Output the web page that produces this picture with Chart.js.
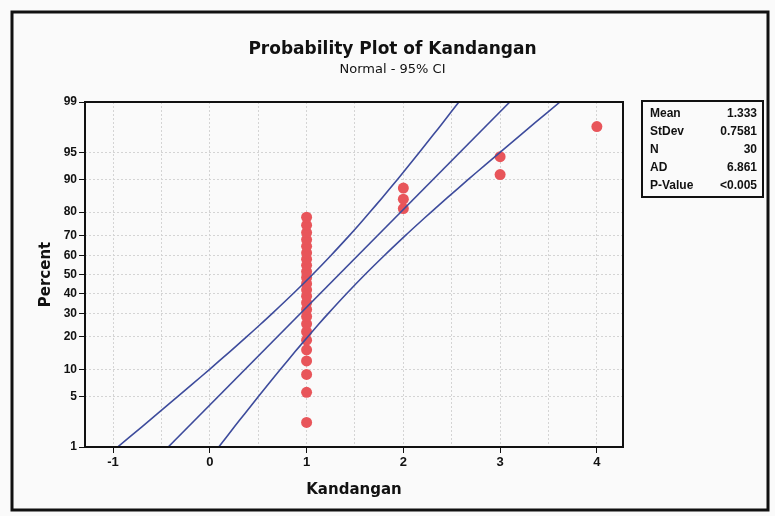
<!DOCTYPE html>
<html>
<head>
<meta charset="utf-8">
<script src="https://cdn.jsdelivr.net/npm/chart.js@4.4.1/dist/chart.umd.min.js"></script>
<style>
  html, body { margin: 0; padding: 0; background: #fafafa; }
  #wrap { position: relative; width: 775px; height: 516px; }
</style>
</head>
<body>
<div id="wrap"><canvas id="probPlot"></canvas></div>
<script>
// observed values (sorted) and their plotted percents (median ranks)
const kandangan = [1, 1, 1, 1, 1, 1, 1, 1, 1, 1, 1, 1, 1, 1, 1, 1, 1, 1, 1, 1, 1, 1, 1, 1, 2, 2, 2, 3, 3, 4];
const plotPercent = [2.3, 5.6, 8.9, 12.2, 15.5, 18.8, 22.0, 25.3, 28.6, 31.9, 35.2, 38.5, 41.8, 45.1, 48.4,
  51.6, 54.9, 58.2, 61.5, 64.8, 68.1, 71.4, 74.7, 78.0, 81.3, 84.5, 87.8, 91.1, 94.4, 97.7];

// fitted line and 95% CI band, read at percent levels
const fitPercent = [1, 99];
const fitLine = [-0.43, 3.10];
const ciPercent = [1, 2, 3, 5, 7, 10, 15, 20, 25, 30, 40, 50, 60, 70, 75, 80, 85, 90, 93, 95, 97, 98, 99];
const ciLower = [-0.953, -0.702, -0.544, -0.330, -0.178, -0.005, 0.211, 0.379, 0.521, 0.646, 0.865, 1.062,
  1.249, 1.441, 1.544, 1.655, 1.782, 1.939, 2.060, 2.164, 2.307, 2.412, 2.574];
const ciUpper = [0.092, 0.254, 0.359, 0.502, 0.606, 0.728, 0.884, 1.011, 1.122, 1.225, 1.417, 1.604,
  1.801, 2.020, 2.145, 2.287, 2.455, 2.671, 2.844, 2.996, 3.210, 3.368, 3.619];

// axis ticks
const yTickPercent = [1, 5, 10, 20, 30, 40, 50, 60, 70, 80, 90, 95, 99];
const xTicks = [-1, -0.5, 0, 0.5, 1, 1.5, 2, 2.5, 3, 3.5, 4];

// stats box
const statLabels = ['Mean', 'StDev', 'N', 'AD', 'P-Value'];
const statValues = ['1.333', '0.7581', '30', '6.861', '<0.005'];

const FONT = 'Liberation Sans';
const HEAD = 'DejaVu Sans';

// inverse normal cdf (Acklam) - the y axis is a normal probability scale
function normInv(p) {
  const a = [-3.969683028665376e+01, 2.209460984245205e+02, -2.759285104469687e+02, 1.383577518672690e+02, -3.066479806614716e+01, 2.506628277459239e+00];
  const b = [-5.447609879822406e+01, 1.615858368580409e+02, -1.556989798598866e+02, 6.680131188771972e+01, -1.328068155288572e+01];
  const c = [-7.784894002430293e-03, -3.223964580411365e-01, -2.400758277161838e+00, -2.549732539343734e+00, 4.374664141464968e+00, 2.938163982698783e+00];
  const d = [7.784695709041462e-03, 3.224671290700398e-01, 2.445134137142996e+00, 3.754408661907416e+00];
  const plow = 0.02425;
  let q, r;
  if (p < plow) {
    q = Math.sqrt(-2 * Math.log(p));
    return (((((c[0] * q + c[1]) * q + c[2]) * q + c[3]) * q + c[4]) * q + c[5]) /
      ((((d[0] * q + d[1]) * q + d[2]) * q + d[3]) * q + 1);
  }
  if (p <= 1 - plow) {
    q = p - 0.5;
    r = q * q;
    return (((((a[0] * r + a[1]) * r + a[2]) * r + a[3]) * r + a[4]) * r + a[5]) * q /
      (((((b[0] * r + b[1]) * r + b[2]) * r + b[3]) * r + b[4]) * r + 1);
  }
  q = Math.sqrt(-2 * Math.log(1 - p));
  return -(((((c[0] * q + c[1]) * q + c[2]) * q + c[3]) * q + c[4]) * q + c[5]) /
    ((((d[0] * q + d[1]) * q + d[2]) * q + d[3]) * q + 1);
}
const zOf = pct => normInv(pct / 100);
const toPoints = (xs, pcts) => xs.map((x, i) => ({ x: x, y: zOf(pcts[i]) }));

const LINE = '#3d4b9c';
const DOT = '#e8555a';

const framePlugin = {
  id: 'frame',
  beforeDraw(chart) {
    const ctx = chart.ctx;
    ctx.save();
    ctx.fillStyle = '#fafafa';
    ctx.fillRect(0, 0, chart.width, chart.height);
    ctx.restore();
  },
  afterDraw(chart) {
    const ctx = chart.ctx;
    const a = chart.chartArea;
    ctx.save();
    // outer graph frame
    ctx.strokeStyle = '#111';
    ctx.lineWidth = 3;
    ctx.strokeRect(12, 12, 756, 498);
    // plot area box
    ctx.lineWidth = 2;
    ctx.strokeRect(a.left, a.top, a.right - a.left, a.bottom - a.top);
    // stats table
    const bx = 642, by = 101, bw = 121, bh = 96;
    ctx.strokeRect(bx, by, bw, bh);
    ctx.fillStyle = '#111';
    ctx.font = 'bold 12px "' + FONT + '"';
    ctx.textBaseline = 'middle';
    statLabels.forEach((lab, i) => {
      const y = by + 13 + i * 18;
      ctx.textAlign = 'left';
      ctx.fillText(lab, bx + 8, y);
      ctx.textAlign = 'right';
      ctx.fillText(statValues[i], bx + bw - 6, y);
    });
    ctx.restore();
  }
};

const lineStyle = {
  showLine: true,
  borderColor: LINE,
  borderWidth: 1.6,
  pointRadius: 0,
  pointHoverRadius: 0,
  tension: 0.3,
  fill: false
};

new Chart(document.getElementById('probPlot'), {
  type: 'scatter',
  data: {
    datasets: [
      Object.assign({ label: 'Lower CI', data: toPoints(ciLower, ciPercent) }, lineStyle),
      Object.assign({ label: 'Fit', data: toPoints(fitLine, fitPercent) }, lineStyle, { tension: 0 }),
      Object.assign({ label: 'Upper CI', data: toPoints(ciUpper, ciPercent) }, lineStyle),
      {
        label: 'Kandangan',
        data: toPoints(kandangan, plotPercent),
        backgroundColor: DOT,
        borderColor: DOT,
        borderWidth: 0,
        pointRadius: 5.5
      }
    ]
  },
  plugins: [framePlugin],
  options: {
    responsive: true,
    maintainAspectRatio: false,
    animation: false,
    layout: { padding: { left: 28, right: 18, top: 0, bottom: 14 } },
    plugins: {
      legend: { display: false },
      tooltip: { enabled: false },
      title: {
        display: true,
        text: 'Probability Plot of Kandangan',
        color: '#111',
        font: { family: HEAD, size: 17, weight: 'bold', lineHeight: 1 },
        padding: { top: 41, bottom: 0 }
      },
      subtitle: {
        display: true,
        text: 'Normal - 95% CI',
        color: '#111',
        font: { family: HEAD, size: 13, lineHeight: 1 },
        padding: { top: 5, bottom: 26 }
      }
    },
    scales: {
      x: {
        type: 'linear',
        min: -1.29,
        max: 4.27,
        afterFit: s => { s.height = 55; },
        afterBuildTicks: s => { s.ticks = xTicks.map(v => ({ value: v })); },
        border: { display: false, dash: [2, 2] },
        grid: {
          color: '#d4d4d4',
          tickColor: c => (c.tick && Number.isInteger(c.tick.value)) ? '#111' : 'rgba(0,0,0,0)',
          tickLength: 6,
          tickBorderDash: [],
          lineWidth: 1
        },
        ticks: {
          color: '#111',
          padding: 2,
          font: { family: FONT, size: 13, weight: 'bold' },
          callback: v => Number.isInteger(v) ? String(v) : ''
        },
        title: {
          display: true,
          text: 'Kandangan',
          color: '#111',
          font: { family: HEAD, size: 15, weight: 'bold' },
          padding: { top: 0, bottom: 3 }
        }
      },
      y: {
        type: 'linear',
        min: zOf(1),
        max: zOf(99),
        afterFit: s => { s.width = 57; },
        afterBuildTicks: s => { s.ticks = yTickPercent.map(p => ({ value: zOf(p) })); },
        border: { display: false, dash: [2, 2] },
        grid: {
          color: '#d4d4d4',
          tickColor: '#111',
          tickLength: 6,
          tickBorderDash: [],
          lineWidth: 1
        },
        ticks: {
          color: '#111',
          padding: 2,
          font: { family: FONT, size: 12, weight: 'bold' },
          callback: (v, i) => String(yTickPercent[i])
        },
        title: {
          display: true,
          text: 'Percent',
          color: '#111',
          font: { family: HEAD, size: 15, weight: 'bold' },
          padding: { top: 9, bottom: 0 }
        }
      },
      // empty right-hand axis that reserves room for the stats table
      side: {
        type: 'linear',
        position: 'right',
        afterFit: s => { s.width = 134; },
        border: { display: false },
        grid: { display: false },
        ticks: { display: false }
      }
    }
  }
});
</script>
</body>
</html>
